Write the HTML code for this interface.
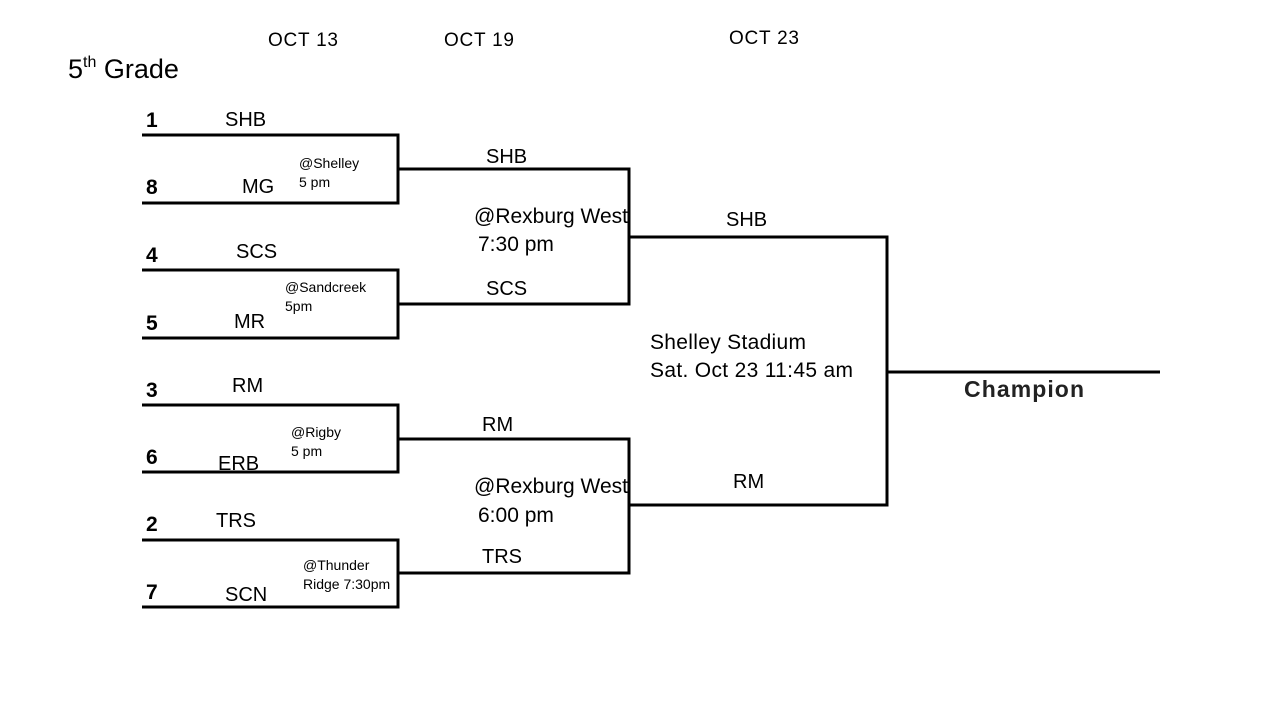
<!DOCTYPE html>
<html><head><style>body{margin:0;background:#fff}svg{display:block}</style></head><body>
<svg width="1280" height="720" xmlns="http://www.w3.org/2000/svg" font-family="Liberation Sans, sans-serif">
<g stroke="#000" stroke-width="3" fill="none">
<path d="M142 135H398V203H142"/><path d="M142 270H398V338H142"/><path d="M142 405H398V472H142"/><path d="M142 540H398V607H142"/>
<path d="M398 169H629V304H398"/><path d="M398 439H629V573H398"/>
<path d="M629 237H887V505H629"/><path d="M887 372H1160"/>
</g>
<g font-size="19" fill="#000">
<text x="268" y="46" textLength="70">OCT 13</text><text x="444" y="46" textLength="70">OCT 19</text><text x="729" y="44" textLength="70">OCT 23</text>
</g>
<text x="68" y="78" font-size="27">5<tspan font-size="16" dy="-11">th</tspan><tspan dy="11"> Grade</tspan></text>
<g font-size="21" font-weight="bold">
<text x="146" y="127">1</text><text x="146" y="194">8</text><text x="146" y="262">4</text><text x="146" y="330">5</text>
<text x="146" y="397">3</text><text x="146" y="464">6</text><text x="146" y="531">2</text><text x="146" y="599">7</text>
</g>
<g font-size="20">
<text x="225" y="126">SHB</text><text x="242" y="193">MG</text><text x="236" y="258">SCS</text><text x="234" y="328">MR</text>
<text x="232" y="392">RM</text><text x="218" y="470">ERB</text><text x="216" y="527">TRS</text><text x="225" y="601">SCN</text>
<text x="486" y="163">SHB</text><text x="486" y="295">SCS</text><text x="482" y="431">RM</text><text x="482" y="563">TRS</text>
<text x="726" y="226">SHB</text><text x="733" y="488">RM</text>
</g>
<g font-size="21">
<text x="474" y="223" textLength="154">@Rexburg West</text><text x="478" y="251">7:30 pm</text>
<text x="474" y="493" textLength="154">@Rexburg West</text><text x="478" y="522">6:00 pm</text>
<text x="650" y="349" textLength="156">Shelley Stadium</text><text x="650" y="377" textLength="203">Sat. Oct 23 11:45 am</text>
</g>
<g font-size="14">
<text x="299" y="168">@Shelley</text><text x="299" y="187">5 pm</text>
<text x="285" y="292">@Sandcreek</text><text x="285" y="311">5pm</text>
<text x="291" y="437">@Rigby</text><text x="291" y="456">5 pm</text>
<text x="303" y="570">@Thunder</text><text x="303" y="589">Ridge 7:30pm</text>
</g>
<text x="964" y="397" font-size="23" font-weight="bold" fill="#222" textLength="120">Champion</text>
</svg>
</body></html>
